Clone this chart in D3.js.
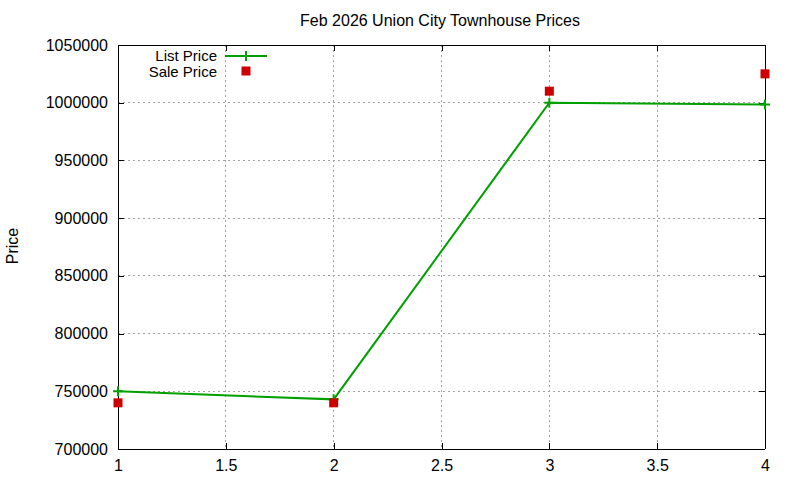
<!DOCTYPE html>
<html>
<head>
<meta charset="utf-8">
<style>
  body { margin: 0; background: #fff; }
  text { font-family: "Liberation Sans", Arial, sans-serif; }
</style>
</head>
<body>
<svg width="800" height="480"></svg>
<script src="https://d3js.org/d3.v7.min.js"></script>
<script>
  // data
  var xs = [1, 2, 3, 4];
  var listPrice = [750000, 743000, 1000000, 998500];
  var salePrice = [740000, 740000, 1010000, 1025000];
  var xTicks = [1, 1.5, 2, 2.5, 3, 3.5, 4];
  var yTicks = [700000, 750000, 800000, 850000, 900000, 950000, 1000000, 1050000];

  var svg = d3.select("svg"),
      margin = {top: 45, right: 35, bottom: 31, left: 118},
      width = +svg.attr("width") - margin.left - margin.right,
      height = +svg.attr("height") - margin.top - margin.bottom,
      g = svg.append("g").attr("transform", "translate(" + margin.left + "," + margin.top + ")");

  svg.append("rect").attr("width", 800).attr("height", 480).attr("fill", "#fff").lower();

  var x = d3.scaleLinear().domain([1, 4]).range([0, width]);
  var y = d3.scaleLinear().domain([700000, 1050000]).range([height, 0]);

  // grid
  g.append("g")
      .selectAll("line.vx")
      .data(xTicks.slice(1, -1))
      .enter().append("line")
      .attr("x1", function(d) { return x(d); })
      .attr("x2", function(d) { return x(d); })
      .attr("y1", 0).attr("y2", height)
      .attr("stroke", "#a0a0a0").attr("stroke-width", 1)
      .attr("stroke-dasharray", "2,3")
      .attr("shape-rendering", "crispEdges");

  g.append("g")
      .selectAll("line.hy")
      .data(yTicks.slice(1, -1))
      .enter().append("line")
      .attr("y1", function(d) { return y(d); })
      .attr("y2", function(d) { return y(d); })
      .attr("x1", 0).attr("x2", width)
      .attr("stroke", "#a0a0a0").attr("stroke-width", 1)
      .attr("stroke-dasharray", "2,3")
      .attr("shape-rendering", "crispEdges");

  // axes (gnuplot style: inward ticks, mirrored)
  var tk = 6;
  var xb = g.append("g")
      .attr("transform", "translate(0," + height + ")")
      .call(d3.axisBottom(x).tickValues(xTicks).tickSize(-tk).tickPadding(tk + 5).tickFormat(d3.format("")));
  var xt = g.append("g")
      .call(d3.axisTop(x).tickValues(xTicks).tickSize(-tk).tickFormat(""));
  var yl = g.append("g")
      .call(d3.axisLeft(y).tickValues(yTicks).tickSize(-tk).tickPadding(tk + 4).tickFormat(d3.format("d")));
  var yr = g.append("g")
      .attr("transform", "translate(" + width + ",0)")
      .call(d3.axisRight(y).tickValues(yTicks).tickSize(-tk).tickFormat(""));

  [xb, xt, yl, yr].forEach(function(a) {
    a.selectAll("path").attr("stroke", "#000").attr("shape-rendering", "crispEdges");
    a.selectAll("line").attr("stroke", "#000").attr("shape-rendering", "crispEdges");
    a.selectAll("text").attr("font-size", "16px").attr("fill", "#000")
        .attr("font-family", "'Liberation Sans', Arial, sans-serif");
  });
  xb.selectAll("path").attr("d", "M0,0H" + width);
  xt.selectAll("path").attr("d", "M0,0H" + width);
  yl.selectAll("path").attr("d", "M0,0V" + height);
  yr.selectAll("path").attr("d", "M0,0V" + height);

  // list price line
  var green = "#00a000", red = "#cc0000";
  var listData = xs.map(function(d, i) { return {x: d, y: listPrice[i]}; });
  var saleData = xs.map(function(d, i) { return {x: d, y: salePrice[i]}; });

  g.append("path")
      .datum(listData)
      .attr("fill", "none")
      .attr("stroke", green)
      .attr("stroke-width", 2)
      .attr("d", d3.line().x(function(d) { return x(d.x); }).y(function(d) { return y(d.y); }));

  g.selectAll("path.plus")
      .data(listData)
      .enter().append("path")
      .attr("class", "plus")
      .attr("fill", "none")
      .attr("stroke", green)
      .attr("stroke-width", 2)
      .attr("d", function(d) {
        var cx = x(d.x), cy = y(d.y);
        return "M" + (cx - 5) + "," + cy + "H" + (cx + 5) + "M" + cx + "," + (cy - 5) + "V" + (cy + 5);
      });

  g.selectAll("rect.sale")
      .data(saleData)
      .enter().append("rect")
      .attr("class", "sale")
      .attr("x", function(d) { return x(d.x) - 4.5; })
      .attr("y", function(d) { return y(d.y) - 4.5; })
      .attr("width", 9).attr("height", 9)
      .attr("fill", red);

  // legend
  var lg = svg.append("g");
  lg.append("text").attr("x", 217).attr("y", 55.5).attr("dy", "0.35em")
      .attr("text-anchor", "end").attr("font-size", "15px").text("List Price");
  lg.append("line").attr("x1", 225).attr("x2", 267).attr("y1", 56).attr("y2", 56)
      .attr("stroke", green).attr("stroke-width", 2);
  lg.append("path").attr("stroke", green).attr("stroke-width", 2)
      .attr("d", "M246,51V61");
  lg.append("text").attr("x", 217).attr("y", 71.5).attr("dy", "0.35em")
      .attr("text-anchor", "end").attr("font-size", "15px").text("Sale Price");
  lg.append("rect").attr("x", 241.5).attr("y", 66.5).attr("width", 9).attr("height", 9).attr("fill", red);

  // title and y label
  svg.append("text").attr("x", 440).attr("y", 20).attr("dy", "0.35em")
      .attr("text-anchor", "middle").attr("font-size", "16px")
      .text("Feb 2026 Union City Townhouse Prices");
  svg.append("text")
      .attr("transform", "translate(12,246) rotate(-90)")
      .attr("dy", "0.35em")
      .attr("text-anchor", "middle").attr("font-size", "16px")
      .text("Price");
</script>
</body>
</html>
